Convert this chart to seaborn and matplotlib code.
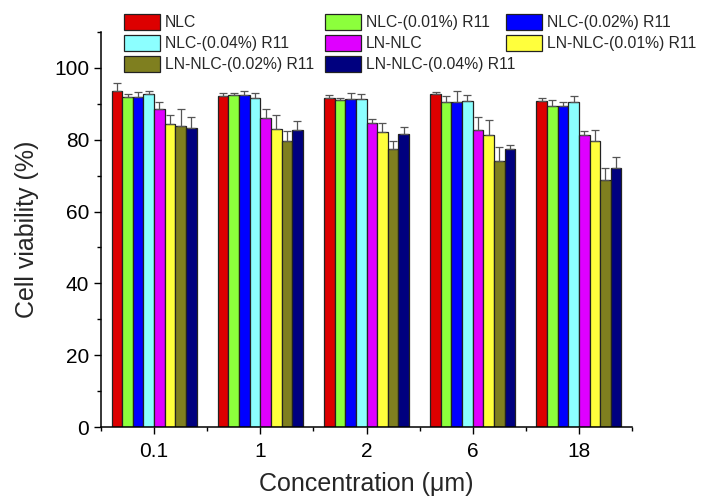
import numpy as np
import pandas as pd
import matplotlib
matplotlib.use('Agg')
import matplotlib.pyplot as plt
from matplotlib.patches import Patch
from matplotlib.ticker import MultipleLocator, FixedLocator
import seaborn as sns

# Data (mean and upper error, cell viability %)
concentrations = ['0.1', '1', '2', '6', '18']
formulations = ['NLC', 'NLC-(0.01%) R11', 'NLC-(0.02%) R11', 'NLC-(0.04%) R11',
                'LN-NLC', 'LN-NLC-(0.01%) R11', 'LN-NLC-(0.02%) R11', 'LN-NLC-(0.04%) R11']
colors = ['#DD0000', '#8CFF3C', '#0000FF', '#8CFFFF',
          '#DF00FF', '#FFFF3C', '#7F7F1F', '#00007F']

nlc = [93.6, 92.2, 91.6, 92.6, 90.9]
nlc_001 = [91.8, 92.4, 91.2, 90.5, 89.4]
nlc_002 = [91.8, 92.4, 91.4, 90.5, 89.4]
nlc_004 = [92.8, 91.6, 91.4, 90.9, 90.5]
ln_nlc = [88.6, 86.0, 84.8, 82.7, 81.3]
ln_nlc_001 = [84.3, 82.9, 82.1, 81.2, 79.6]
ln_nlc_002 = [83.8, 79.7, 77.4, 74.2, 68.8]
ln_nlc_004 = [83.4, 82.7, 81.6, 77.3, 72.1]

nlc_err = [2.1, 0.9, 0.9, 0.7, 0.6]
nlc_001_err = [0.8, 0.5, 0.5, 1.6, 1.7]
nlc_002_err = [1.4, 1.1, 1.7, 3.2, 1.0]
nlc_004_err = [0.8, 1.3, 1.4, 1.5, 1.7]
ln_nlc_err = [1.8, 2.6, 0.9, 3.7, 1.2]
ln_nlc_001_err = [2.6, 4.0, 2.7, 4.4, 3.0]
ln_nlc_002_err = [4.7, 2.8, 2.3, 3.7, 3.2]
ln_nlc_004_err = [2.8, 2.5, 1.9, 1.2, 3.0]

means = [nlc, nlc_001, nlc_002, nlc_004, ln_nlc, ln_nlc_001, ln_nlc_002, ln_nlc_004]
errors = [nlc_err, nlc_001_err, nlc_002_err, nlc_004_err,
          ln_nlc_err, ln_nlc_001_err, ln_nlc_002_err, ln_nlc_004_err]

rows = []
for name, vals in zip(formulations, means):
    for c, v in zip(concentrations, vals):
        rows.append({'Concentration': c, 'Formulation': name, 'Viability': v})
df = pd.DataFrame(rows)

sns.set_style('ticks')
plt.rcParams['font.family'] = ['Liberation Sans', 'DejaVu Sans']

fig = plt.figure(figsize=(7.03, 4.97), dpi=100)
ax = fig.add_axes([0.1437, 0.1408, 0.899 - 0.1437, 0.9356 - 0.1408])

sns.barplot(data=df, x='Concentration', y='Viability', hue='Formulation',
            order=concentrations, hue_order=formulations, palette=colors,
            errorbar=None, width=0.8, edgecolor='#222222', linewidth=0.9,
            saturation=1, legend=False, ax=ax)

# one-sided error bars on top of each bar
for container, err in zip(ax.containers, errors):
    xs = [p.get_x() + p.get_width() / 2 for p in container]
    hs = [p.get_height() for p in container]
    ax.errorbar(xs, hs, yerr=[np.zeros(len(err)), err], fmt='none',
                ecolor='#555555', elinewidth=0.9, capsize=2.9, capthick=0.9)

ax.set_xlim(-0.5, 4.5)
ax.set_ylim(0, 110)
ax.yaxis.set_major_locator(FixedLocator([0, 20, 40, 60, 80, 100]))
ax.yaxis.set_minor_locator(MultipleLocator(10))
ax.xaxis.set_minor_locator(FixedLocator(np.arange(-0.5, 5.0, 1.0)))
ax.tick_params(axis='both', which='major', direction='out', length=5, width=1,
               labelsize=15, color='black', labelcolor='black')
ax.tick_params(axis='x', which='major', pad=6)
ax.tick_params(axis='both', which='minor', direction='out', length=3, width=1,
               color='black')
for s in ['left', 'bottom']:
    ax.spines[s].set_linewidth(1.1)
    ax.spines[s].set_color('black')
sns.despine(ax=ax)

ax.set_xlabel('Concentration (μm)', fontsize=18, labelpad=8)
ax.set_ylabel('Cell viability (%)', fontsize=18, labelpad=11)

# legend laid out row-wise in three columns
handles = [Patch(facecolor=c, edgecolor='#222222', linewidth=0.9) for c in colors]
columns = [[0, 3, 6], [1, 4, 7], [2, 5]]
col_x = [124, 325, 506]
for idx, x in zip(columns, col_x):
    fig.legend([handles[i] for i in idx], [formulations[i] for i in idx],
               loc='upper left', bbox_to_anchor=(x / 703, 1 - 14 / 497),
               frameon=False, fontsize=11.3, borderpad=0, borderaxespad=0,
               handlelength=2.3, handleheight=1.2, handletextpad=0.3,
               labelspacing=0.3)

fig.savefig('out.png', dpi=100)
